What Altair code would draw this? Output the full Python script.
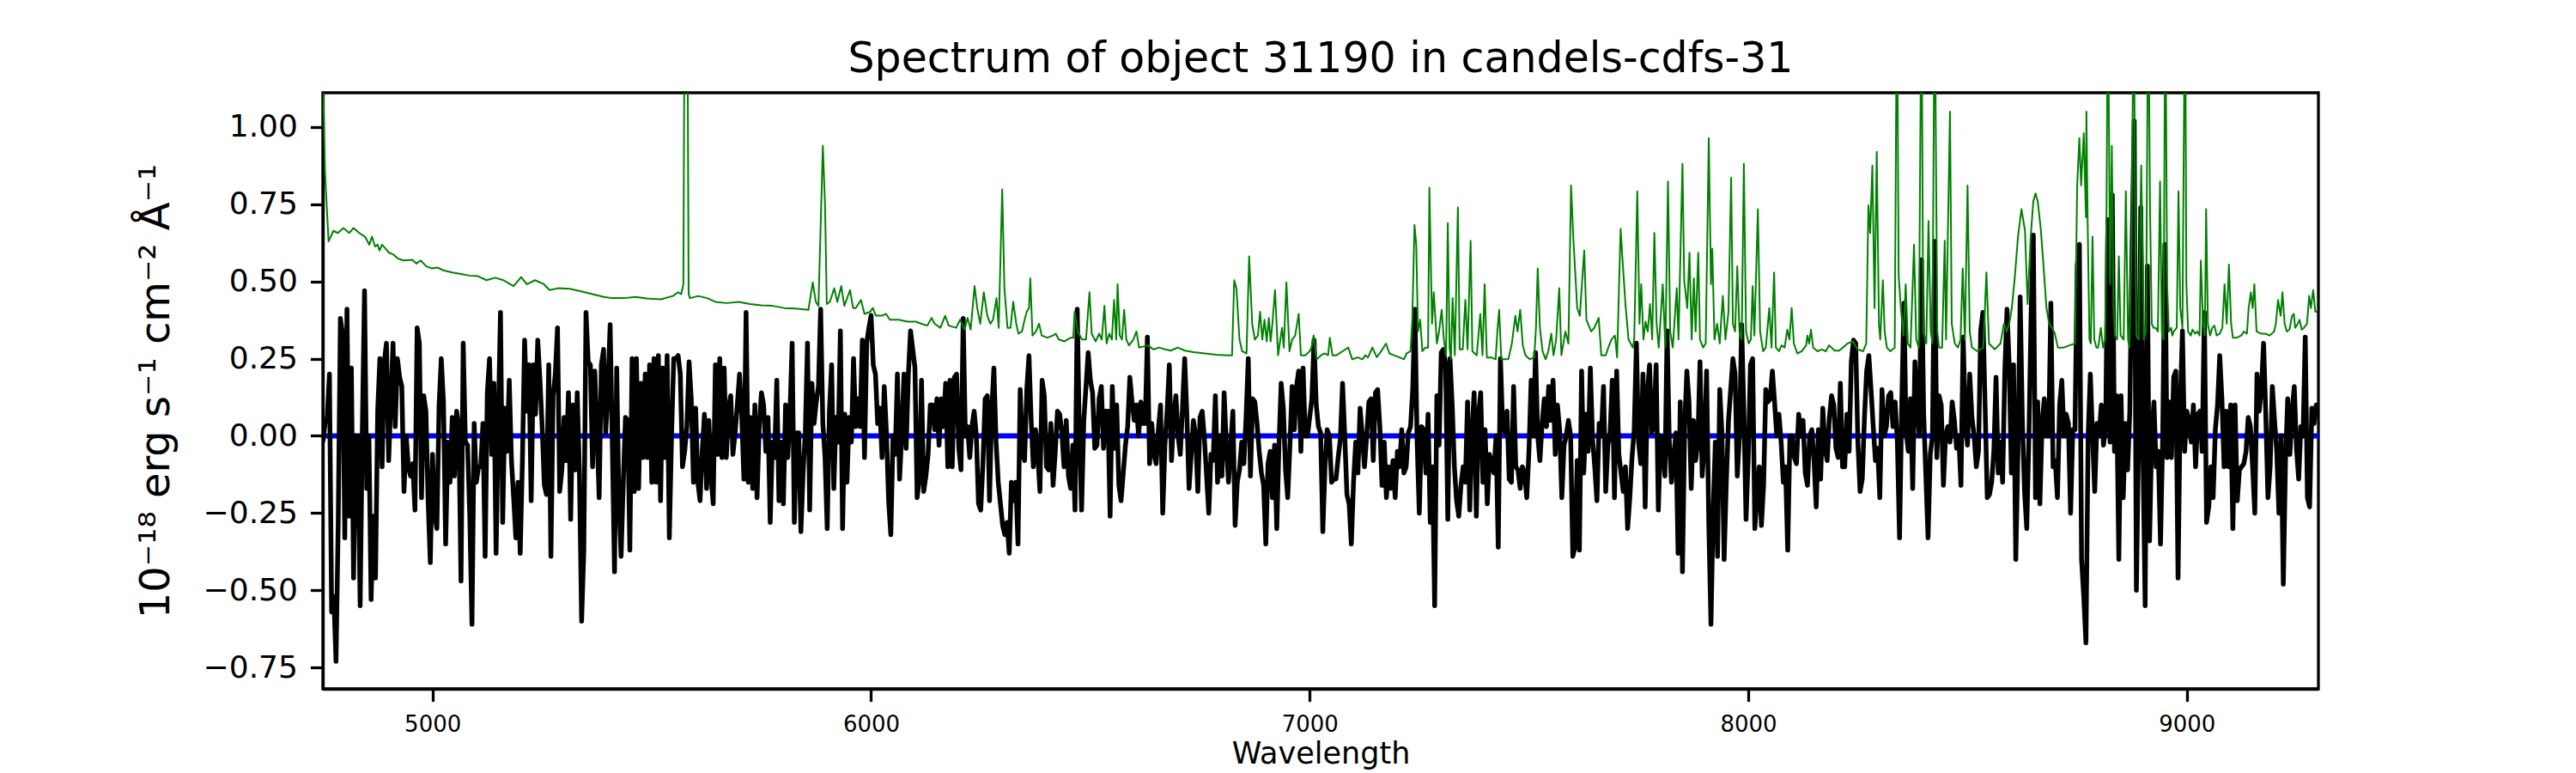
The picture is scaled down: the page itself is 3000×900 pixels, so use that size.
import altair as alt
import pandas as pd

# ---- black flux series: 5 A grid, one list per stretch of the spectrum ----
S1 = [-0.02, 0.04, 0.06, 0.20, -0.57, -0.52, -0.73, -0.28, 0.38, 0.33,
      -0.33, 0.41, -0.26, 0.22, -0.46, 0.00, 0.00, -0.55, 0.02, 0.47,
      -0.17, 0.00, -0.53, -0.26, -0.46, 0.08, 0.25, -0.10, 0.24, 0.30,
      -0.08, 0.11, 0.30, 0.03, 0.25, 0.19, 0.16, -0.18, 0.00, -0.10,
      -0.13, -0.09, -0.24, 0.35, 0.30, -0.20, 0.13, 0.08, -0.21, -0.41,
      -0.06, -0.26, -0.30, 0.10, 0.25, 0.11, -0.35, -0.02, -0.15, 0.06,
      -0.13, 0.08, 0.03, -0.47, 0.30, -0.02, -0.03, -0.26, -0.61, 0.04,
      -0.15, -0.10, -0.10, 0.04, -0.39, 0.14, 0.25, -0.06, 0.17, -0.38,
      0.05, 0.40, -0.28, 0.09, -0.05, 0.18, -0.08, -0.20, -0.33, -0.15,
      -0.38, -0.08, 0.31, 0.08, 0.23, -0.21, 0.23, 0.07, 0.31, 0.18,
      0.03, -0.16, -0.19, 0.23, -0.39, 0.13, 0.20, 0.35, -0.18, -0.11,
      0.06, -0.08, 0.14, -0.27, 0.10, -0.11, 0.14, -0.12, -0.60, -0.37,
      0.40, 0.24, 0.23, -0.10, 0.21, 0.02, -0.20, 0.23, 0.28, 0.01,
      0.15, 0.36, -0.03, -0.44, 0.22, -0.21, -0.39, -0.15, 0.06, 0.05,
      -0.37, 0.25, -0.18, 0.25, -0.17, 0.17, -0.07, 0.20, -0.07, 0.23,
      -0.15, 0.25, -0.15, 0.26, -0.21, 0.22, -0.07, 0.26, -0.33, 0.00,
      0.25, 0.25]
S2 = [0.26, 0.20, -0.10, -0.05, 0.03, 0.24, 0.12, -0.15, 0.09, -0.15,
      -0.21, -0.05, 0.07, -0.17, 0.05, -0.13, -0.22, 0.23, -0.06, 0.25,
      -0.07, 0.22, -0.07, 0.09, 0.13, -0.06, 0.01, 0.10, 0.20, 0.07,
      -0.14, 0.40, -0.15, 0.06, -0.17, 0.10, -0.20, 0.03, 0.14, 0.10,
      -0.05, 0.06, -0.28, -0.02, -0.07, 0.18, -0.21, -0.02, -0.22, 0.10,
      -0.07, 0.07, 0.30, -0.28, 0.01, 0.01, -0.31, -0.12, 0.01, 0.30,
      -0.24, 0.17, 0.04, 0.11, 0.16, 0.41, 0.04, -0.07, -0.30, 0.08,
      0.23, -0.17, 0.06, -0.02, 0.34, -0.30, 0.07, -0.15, 0.06, -0.02,
      0.25, 0.03, 0.12, 0.03, 0.31, -0.07, 0.30, 0.35, 0.39, 0.23,
      0.20, 0.04, 0.09, -0.07, 0.16, 0.01, -0.21, -0.32, 0.00, -0.06,
      0.20, -0.14, 0.01, 0.20, -0.04, 0.20, 0.34, 0.28, 0.22, -0.20,
      -0.14, 0.18, -0.18, -0.13, -0.06, 0.10, 0.10, 0.02, 0.12, -0.03,
      0.12, 0.03, 0.17, -0.10, 0.18, -0.10, 0.19, 0.20, -0.04, -0.11,
      0.38, 0.00, 0.03, -0.07, 0.03, 0.08, 0.00, -0.22, -0.24, -0.09,
      0.12, 0.13, -0.21, 0.08, 0.22, -0.02, -0.15, -0.22, -0.29, -0.32,
      -0.28, -0.38, -0.15, -0.21, -0.15, -0.35, 0.15, -0.05, -0.08, 0.15,
      0.26]
S3 = [0.05, -0.10, 0.02, -0.06, -0.18, 0.18, 0.13, -0.10, -0.11, 0.04,
      -0.16, -0.05, 0.08, 0.07, 0.01, -0.10, 0.05, -0.13, -0.17, -0.03,
      -0.24, 0.41, 0.00, -0.24, 0.05, 0.16, 0.27, 0.18, 0.14, -0.04,
      -0.03, 0.12, 0.16, -0.04, 0.08, 0.08, -0.26, 0.16, -0.04, 0.10,
      -0.16, -0.21, -0.12, -0.03, 0.03, 0.19, 0.11, 0.05, 0.10, 0.00,
      0.11, 0.04, 0.04, 0.32, -0.09, 0.04, -0.06, -0.09, 0.02, 0.10,
      -0.25, -0.03, 0.08, 0.23, -0.08, 0.07, 0.13, 0.00, -0.06, 0.09,
      0.25, 0.07, -0.17, -0.06, 0.05, 0.00, -0.18, 0.06, 0.08, -0.01,
      -0.13, -0.25, -0.06, -0.08, 0.13, -0.15, 0.00, -0.13, 0.14, -0.03,
      -0.15, -0.03, 0.08, -0.29, -0.15, -0.11, -0.02, -0.09, 0.06, 0.25,
      -0.13, 0.12, 0.11, 0.04, -0.05, -0.12, -0.16, -0.35, -0.09, -0.05,
      -0.20, -0.03, -0.30, -0.03, 0.17, 0.09, -0.11, -0.20, -0.03, 0.16,
      0.02, 0.16, 0.21, -0.05, 0.22, 0.00, 0.00, 0.06, 0.12, 0.31,
      0.10, 0.03, 0.01, -0.31, -0.10, 0.02, 0.00, -0.15, -0.14, -0.14,
      -0.07, -0.01, 0.17, 0.00, -0.19, -0.22, -0.35, -0.15, -0.02, -0.12,
      0.09, 0.00, -0.10, 0.00, 0.11, 0.12, -0.08, 0.14, 0.15, 0.03,
      -0.16]
S4 = [-0.02, -0.20, -0.10, -0.17, -0.08, -0.20, -0.05, -0.10, 0.02, -0.12,
      -0.10, 0.01, 0.03, 0.15, 0.41, -0.02, -0.25, 0.03, 0.02, -0.12,
      0.07, -0.28, -0.10, -0.55, 0.13, -0.03, 0.27, 0.28, 0.23, -0.27,
      0.25, 0.10, -0.10, -0.21, -0.26, -0.16, -0.10, -0.15, 0.11, -0.24,
      0.01, 0.14, -0.26, 0.07, 0.14, -0.15, 0.02, -0.22, -0.06, -0.09,
      -0.12, 0.00, -0.36, 0.25, 0.03, 0.01, 0.08, -0.14, -0.15, 0.16,
      -0.10, -0.11, -0.17, -0.10, -0.12, -0.20, -0.05, 0.18, 0.00, 0.27,
      0.00, -0.08, 0.04, 0.12, 0.03, 0.16, 0.05, 0.18, -0.06, 0.10,
      0.02, -0.20, -0.03, 0.00, 0.05, 0.00, -0.39, -0.36, -0.08, -0.37,
      0.21, -0.12, 0.07, -0.05, 0.22, -0.01, -0.10, -0.21, 0.04, 0.00,
      0.16, -0.18, -0.03, 0.01, 0.18, -0.20, 0.21, -0.06, -0.12, -0.18,
      -0.10, -0.30, -0.20, -0.07, 0.02, 0.30, -0.02, -0.09, 0.20, -0.23,
      0.14, 0.23, 0.01, 0.04, 0.23, -0.24, 0.00, -0.04, -0.13, 0.34,
      -0.02, -0.15, -0.07, 0.01, -0.38, 0.11, -0.44, 0.03, 0.21, 0.11,
      -0.17, 0.05, -0.08, -0.02, 0.24, -0.13, -0.02, 0.21, -0.28, -0.61,
      -0.24, -0.02, -0.39, 0.15, 0.01, -0.40, -0.15, 0.05, 0.15, 0.25]
S5 = [0.20, -0.13, 0.00, 0.36, 0.08, -0.27, -0.07, 0.23, 0.25, -0.30,
      -0.20, -0.10, -0.29, -0.16, 0.15, 0.11, 0.12, 0.21, 0.11, 0.00,
      0.07, -0.02, -0.15, -0.10, -0.37, 0.00, 0.00, -0.07, -0.09, 0.07,
      0.00, 0.05, -0.12, -0.16, 0.00, 0.02, -0.08, -0.23, 0.02, -0.14,
      0.09, -0.04, -0.08, 0.06, 0.13, 0.10, -0.04, -0.07, 0.17, -0.10,
      -0.10, 0.07, -0.05, 0.24, 0.31, 0.30, -0.02, -0.18, -0.14, 0.06,
      0.21, 0.26, 0.15, 0.03, -0.08, -0.04, -0.20, 0.15, 0.00, 0.03,
      0.13, 0.14, 0.03, 0.11, -0.02, -0.33, 0.10, 0.43, 0.01, -0.05,
      0.12, -0.17, 0.24, 0.09, 0.00, 0.57, 0.07, -0.13, -0.33, -0.06,
      0.00, 0.63, -0.07, 0.13, 0.10, -0.16, 0.00, 0.03, -0.02, 0.11,
      0.05, -0.04, 0.00, -0.16, 0.32, 0.05, -0.03, 0.20, 0.06, 0.00,
      -0.10, -0.05, 0.34, 0.40, 0.10, -0.20, -0.19, -0.15, -0.05, 0.19,
      -0.12, -0.02, -0.15, 0.21, 0.41, 0.23, -0.12, 0.23, -0.40, -0.05,
      0.45, 0.05, -0.18, -0.30, 0.00, 0.40, 0.65, -0.20, 0.11, -0.22,
      0.04, 0.12, 0.00, 0.00, 0.43, -0.10, -0.08, -0.20, 0.10, 0.18,
      0.00, 0.07, 0.04, -0.25, 0.02, 0.02, 0.55, 0.62, -0.40, -0.52,
      -0.67]
S6 = [0.00, 0.20, 0.00, -0.18, 0.04, 0.00, 0.10, -0.03, 0.03, 0.70,
      -0.02, 0.78, -0.05, 0.13, -0.40, 0.13, -0.20, 0.04, -0.11, 0.08,
      0.60, 1.02, -0.50, -0.02, 0.74, -0.05, -0.55, 0.55, -0.34, 0.00,
      0.11, -0.10, -0.05, -0.35, 0.00, 0.62, -0.07, 0.11, -0.07, 0.19,
      0.21, -0.46, 0.10, 0.34, -0.05, 0.08, 0.05, -0.02, 0.10, -0.10,
      0.07, 0.08, -0.05, 0.40, -0.28, -0.23, -0.10, -0.20, 0.02, 0.10,
      0.26, 0.12, -0.10, 0.08, -0.10, 0.10, -0.30, 0.10, -0.21, -0.11,
      -0.10, -0.09, -0.05, 0.06, 0.03, -0.10, -0.25, 0.20, 0.08, 0.15,
      0.30, 0.07, -0.20, -0.10, 0.16, 0.05, -0.05, -0.25, 0.00, -0.48,
      -0.08, 0.12, -0.06, 0.08, 0.16, -0.04, -0.14, 0.03, 0.00, 0.32,
      -0.20, -0.23, 0.09, 0.04, 0.10, 0.06]
segment_starts = [4750, 5560, 6365, 7170, 7970, 8775]
STEP = 5

# ---- green (noise / sky) series, read point by point ----
green_wl = [4750, 4755, 4763, 4774, 4784, 4797, 4810, 4820, 4833, 4846, 4856, 4862, 4869, 4875, 4879, 4885,
            4901, 4911, 4921, 4934, 4954, 4963, 4973, 4986, 4999, 5012, 5025, 5045, 5065, 5084, 5104, 5123,
            5143, 5162, 5185, 5202, 5215, 5234, 5254, 5267, 5286, 5313, 5339, 5365, 5391, 5410, 5437, 5463,
            5489, 5521, 5548,
            5560, 5567, 5572, 5575, 5581, 5584, 5587, 5606, 5626, 5645, 5671, 5698, 5724, 5750, 5776, 5802,
            5828, 5857, 5867, 5874, 5880, 5890, 5895, 5899, 5906, 5916, 5923, 5932, 5939, 5952, 5959, 5965,
            5977, 5985, 5998, 6004, 6011, 6024, 6034, 6043, 6063, 6083, 6102, 6115, 6128, 6138, 6145, 6158,
            6169, 6177, 6194, 6203, 6213, 6220, 6227, 6236, 6242, 6249, 6257, 6265, 6272, 6278, 6286, 6291,
            6299, 6304, 6311, 6318, 6324, 6331, 6336, 6344, 6350, 6355, 6360, 6363, 6368, 6376, 6383, 6389,
            6402, 6415, 6421, 6428, 6441, 6455, 6461, 6464, 6471, 6481, 6490, 6498, 6503, 6512, 6520, 6526,
            6532, 6537, 6543, 6549, 6554, 6559, 6562, 6567, 6572, 6577, 6582, 6588, 6598, 6605, 6611, 6631,
            6644, 6657, 6670, 6683, 6699, 6716, 6735, 6761, 6787, 6813, 6823, 6828, 6833, 6840, 6846, 6856,
            6862, 6869, 6875, 6882, 6887, 6892, 6897, 6902, 6907, 6911, 6915, 6921, 6928, 6937, 6941, 6947,
            6954, 6960, 6967, 6975, 6980, 6990, 7000, 7004, 7009, 7016, 7026, 7034, 7042, 7046, 7052, 7061,
            7075, 7088, 7097, 7110, 7120, 7127, 7133, 7143, 7153, 7163, 7174, 7182, 7192, 7205, 7215, 7221,
            7230, 7234, 7239, 7243, 7247, 7252, 7257, 7264, 7270, 7273, 7279, 7283, 7290, 7295, 7301, 7306,
            7311, 7315, 7319, 7322, 7326, 7331, 7338, 7342, 7349, 7355, 7360, 7367, 7371, 7381, 7389, 7394,
            7399, 7404, 7414, 7424, 7428, 7432, 7437, 7453, 7461, 7469, 7474, 7480, 7486, 7492, 7502, 7512,
            7516, 7520, 7525, 7531, 7538, 7544, 7551, 7556, 7562, 7569, 7574, 7583, 7590, 7596, 7601, 7610,
            7616, 7626, 7631, 7642, 7649, 7659, 7665, 7675, 7681, 7688, 7696, 7701, 7709, 7714, 7720, 7727,
            7737, 7740, 7747, 7752, 7756, 7761, 7766, 7771, 7776, 7781, 7786, 7791, 7796, 7805, 7811, 7817,
            7822, 7828, 7837, 7841, 7850, 7854, 7861, 7866, 7871, 7876, 7880, 7886, 7890, 7897, 7903, 7910,
            7915, 7918, 7923, 7929, 7935, 7942, 7948, 7955, 7961, 7965,
            7970, 7975, 7980, 7985, 7990, 7995, 8001, 8006, 8010, 8014, 8022, 8027, 8034, 8040, 8048, 8053,
            8059, 8063, 8070, 8076, 8083, 8089, 8094, 8099, 8104, 8112, 8122, 8132, 8135, 8139, 8143, 8148,
            8158, 8168, 8177, 8184, 8190, 8197, 8207, 8216, 8226, 8239, 8249, 8262, 8269, 8274, 8278, 8283,
            8288, 8293, 8298, 8301, 8307, 8311, 8316, 8324, 8334, 8339, 8343, 8348, 8354, 8359, 8364, 8370,
            8378, 8383, 8389, 8395, 8399, 8406, 8411, 8416, 8420, 8425, 8431, 8435, 8442, 8448, 8451, 8460,
            8464, 8471, 8478, 8484, 8489, 8494, 8500, 8505, 8510, 8523, 8536, 8543, 8549, 8562, 8575, 8583,
            8589, 8595, 8601, 8608, 8615, 8623, 8631, 8637, 8644, 8650, 8655, 8660, 8667, 8673, 8680, 8686,
            8693, 8699, 8706, 8719, 8732, 8745, 8750, 8755, 8759, 8765, 8770,
            8771, 8774, 8778, 8781, 8785, 8789, 8794, 8798, 8804, 8809, 8814, 8817, 8820, 8825, 8829, 8833,
            8836, 8841, 8845, 8849, 8856, 8861, 8866, 8869, 8874, 8879, 8882, 8885, 8890, 8896, 8902, 8907,
            8912, 8916, 8920, 8924, 8929, 8934, 8939, 8943, 8947, 8951, 8955, 8959, 8964, 8967, 8970, 8977,
            8981, 8985, 8990, 8996, 8999, 9003, 9009, 9013, 9019, 9024, 9029, 9032, 9037, 9041, 9044, 9048,
            9053, 9058, 9063, 9068, 9075, 9081, 9086, 9091, 9096, 9101, 9105, 9114, 9124, 9130, 9137, 9141,
            9146, 9150, 9154, 9159, 9169, 9179, 9189, 9199, 9203, 9208, 9214, 9218, 9223, 9228, 9234, 9240,
            9244, 9247, 9253, 9257, 9262, 9267, 9274, 9279, 9283, 9288, 9293, 9298]
green_flux = [1.20, 0.85, 0.63, 0.664, 0.657, 0.673, 0.657, 0.673, 0.657, 0.645, 0.619, 0.645, 0.613, 0.619, 0.600, 0.619,
              0.593, 0.587, 0.574, 0.568, 0.570, 0.558, 0.568, 0.549, 0.542, 0.545, 0.536, 0.529, 0.524, 0.519, 0.517, 0.504,
              0.512, 0.504, 0.485, 0.514, 0.491, 0.504, 0.491, 0.472, 0.478, 0.476, 0.468, 0.459, 0.450, 0.446, 0.446, 0.450,
              0.445, 0.442, 0.453,
              0.465, 0.459, 0.491, 1.50, 1.50, 0.460, 0.446, 0.453, 0.446, 0.434, 0.430, 0.434, 0.427, 0.423, 0.421, 0.414,
              0.412, 0.408, 0.497, 0.434, 0.421, 0.939, 0.747, 0.427, 0.434, 0.478, 0.434, 0.485, 0.421, 0.472, 0.414, 0.414,
              0.440, 0.395, 0.402, 0.414, 0.389, 0.389, 0.395, 0.376, 0.376, 0.370, 0.370, 0.363, 0.357, 0.382, 0.363, 0.350,
              0.389, 0.357, 0.350, 0.376, 0.344, 0.382, 0.344, 0.485, 0.414, 0.363, 0.465, 0.389, 0.363, 0.376, 0.446, 0.350,
              0.798, 0.478, 0.350, 0.350, 0.434, 0.363, 0.331, 0.338, 0.376, 0.402, 0.414, 0.510, 0.325, 0.338, 0.363, 0.325,
              0.318, 0.325, 0.331, 0.312, 0.306, 0.318, 0.318, 0.402, 0.338, 0.312, 0.312, 0.465, 0.331, 0.306, 0.331, 0.312,
              0.421, 0.299, 0.331, 0.312, 0.440, 0.312, 0.491, 0.325, 0.312, 0.408, 0.312, 0.293, 0.312, 0.338, 0.286, 0.293,
              0.280, 0.286, 0.280, 0.276, 0.286, 0.276, 0.271, 0.267, 0.263, 0.261, 0.261, 0.504, 0.478, 0.312, 0.274, 0.267,
              0.581, 0.363, 0.312, 0.325, 0.402, 0.312, 0.376, 0.306, 0.382, 0.306, 0.363, 0.472, 0.261, 0.350, 0.286, 0.497,
              0.274, 0.312, 0.325, 0.395, 0.261, 0.261, 0.274, 0.286, 0.325, 0.248, 0.261, 0.267, 0.261, 0.318, 0.261, 0.261,
              0.274, 0.286, 0.248, 0.254, 0.248, 0.261, 0.254, 0.286, 0.255, 0.274, 0.299, 0.267, 0.261, 0.254, 0.248, 0.267,
              0.274, 0.376, 0.683, 0.619, 0.338, 0.376, 0.274, 0.286, 0.286, 0.804, 0.363, 0.465, 0.299, 0.338, 0.408, 0.312,
              0.261, 0.689, 0.286, 0.248, 0.446, 0.261, 0.740, 0.280, 0.280, 0.440, 0.280, 0.632, 0.274, 0.261, 0.395, 0.261,
              0.491, 0.254, 0.254, 0.248, 0.338, 0.408, 0.248, 0.248, 0.299, 0.389, 0.338, 0.408, 0.293, 0.261, 0.248, 0.254,
              0.350, 0.542, 0.350, 0.274, 0.248, 0.274, 0.331, 0.261, 0.312, 0.478, 0.261, 0.338, 0.299, 0.811, 0.645, 0.414,
              0.389, 0.600, 0.376, 0.338, 0.350, 0.382, 0.261, 0.261, 0.286, 0.312, 0.325, 0.254, 0.670, 0.555, 0.427, 0.312,
              0.286, 0.312, 0.792, 0.363, 0.491, 0.312, 0.370, 0.338, 0.427, 0.312, 0.657, 0.363, 0.286, 0.491, 0.286, 0.824,
              0.338, 0.286, 0.478, 0.312, 0.881, 0.504, 0.414, 0.593, 0.312, 0.510, 0.338, 0.593, 0.312, 0.286, 0.299, 0.964,
              0.491, 0.606, 0.312, 0.363, 0.299, 0.453, 0.312, 0.402, 0.836, 0.363,
              0.338, 0.549, 0.338, 0.312, 0.881, 0.338, 0.299, 0.312, 0.485, 0.325, 0.734, 0.338, 0.274, 0.286, 0.414, 0.286,
              0.529, 0.286, 0.274, 0.293, 0.286, 0.344, 0.312, 0.414, 0.299, 0.267, 0.274, 0.293, 0.325, 0.299, 0.344, 0.286,
              0.274, 0.280, 0.274, 0.293, 0.286, 0.276, 0.276, 0.286, 0.299, 0.306, 0.280, 0.274, 0.299, 0.747, 0.657, 0.875,
              0.414, 0.920, 0.363, 0.312, 0.504, 0.338, 0.286, 0.274, 0.286, 1.50, 0.517, 0.414, 0.325, 0.491, 0.299, 0.286,
              0.619, 0.312, 0.286, 1.50, 0.338, 0.299, 0.696, 0.338, 0.299, 1.50, 0.338, 0.286, 0.286, 0.632, 0.312, 1.05,
              0.363, 0.299, 0.286, 0.312, 0.542, 0.312, 0.811, 0.338, 0.286, 0.274, 0.286, 0.529, 0.299, 0.280, 0.299, 0.363,
              0.338, 0.363, 0.414, 0.517, 0.645, 0.734, 0.664, 0.427, 0.645, 0.760, 0.785, 0.760, 0.670, 0.555, 0.414, 0.363,
              0.350, 0.331, 0.286, 0.286, 0.293, 0.299, 0.811, 0.964, 0.811, 0.980, 0.708,
              1.05, 0.683, 0.312, 0.299, 0.645, 0.312, 0.286, 0.286, 0.350, 0.286, 0.312, 0.747, 1.50, 0.491, 0.939, 0.414,
              0.325, 0.312, 0.581, 0.325, 0.312, 0.792, 0.312, 0.286, 0.619, 1.50, 0.747, 0.325, 0.312, 0.875, 0.312, 0.338,
              1.50, 0.747, 0.363, 0.350, 0.350, 0.338, 0.824, 0.338, 0.312, 1.50, 0.491, 0.338, 0.350, 0.325, 0.338, 0.350,
              0.792, 0.414, 0.350, 1.50, 0.491, 0.338, 0.325, 0.344, 0.331, 0.338, 0.325, 0.568, 0.363, 0.325, 0.734, 0.363,
              0.325, 0.350, 0.357, 0.325, 0.331, 0.350, 0.491, 0.363, 0.555, 0.363, 0.318, 0.318, 0.325, 0.338, 0.331, 0.414,
              0.465, 0.414, 0.491, 0.338, 0.331, 0.331, 0.325, 0.338, 0.363, 0.440, 0.389, 0.465, 0.363, 0.338, 0.344, 0.389,
              0.395, 0.350, 0.363, 0.376, 0.344, 0.350, 0.363, 0.453, 0.414, 0.472, 0.402, 0.402]

x_ticks = [5000, 6000, 7000, 8000, 9000]
y_ticks = [-0.75, -0.50, -0.25, 0.00, 0.25, 0.50, 0.75, 1.00]
x_domain = [4750, 9300]
y_domain = [-0.819, 1.111]
title_text = "Spectrum of object 31190 in candels-cdfs-31"
x_title = "Wavelength"
y_title = "10\u207b\u00b9\u2078 erg s\u207b\u00b9 cm\u207b\u00b2 \u00c5\u207b\u00b9"

# ---- tables ----
bw, bf = [], []
for start, seg in zip(segment_starts, [S1, S2, S3, S4, S5, S6]):
    for k, v in enumerate(seg):
        bw.append(start + STEP * k)
        bf.append(v)
black_df = pd.DataFrame({"wavelength": bw, "flux": bf})
n = min(len(green_wl), len(green_flux))
green_df = pd.DataFrame({"wavelength": green_wl[:n], "flux": green_flux[:n]})
zero_df = pd.DataFrame({"flux": [0.0]})

FONT = "DejaVu Sans"
x_scale = alt.Scale(domain=x_domain, nice=False, zero=False)
y_scale = alt.Scale(domain=y_domain, nice=False, zero=False)
x_axis = alt.Axis(values=x_ticks, format="d", title=x_title, grid=False,
                  labelFontSize=26, titleFontSize=35, titleFontWeight="normal",
                  tickSize=14.6, tickWidth=3.3, domainWidth=3.3,
                  labelPadding=14, titlePadding=4, labelFlush=False,
                  domainColor="black", tickColor="black", labelColor="black", titleColor="black",
                  labelFont=FONT, titleFont=FONT)
y_axis = alt.Axis(values=y_ticks, format=".2f", title=y_title, grid=False,
                  labelFontSize=36, titleFontSize=48, titleFontWeight="normal",
                  tickSize=14.6, tickWidth=3.3, domainWidth=3.3,
                  labelPadding=15, titlePadding=30, labelFlush=False,
                  domainColor="black", tickColor="black", labelColor="black", titleColor="black",
                  labelFont=FONT, titleFont=FONT)

zero_line = alt.Chart(zero_df).mark_rule(color="#0000ff", strokeWidth=6).encode(
    y=alt.Y("flux:Q", scale=y_scale, axis=y_axis)
)
black_line = alt.Chart(black_df).mark_line(
    color="black", strokeWidth=5.5, clip=True, strokeJoin="round"
).encode(
    x=alt.X("wavelength:Q", scale=x_scale, axis=x_axis),
    y=alt.Y("flux:Q", scale=y_scale, axis=y_axis),
)
green_line = alt.Chart(green_df).mark_line(
    color="#008000", strokeWidth=2, clip=True, strokeJoin="round"
).encode(
    x=alt.X("wavelength:Q", scale=x_scale, axis=x_axis),
    y=alt.Y("flux:Q", scale=y_scale, axis=y_axis),
)

chart = alt.layer(zero_line, black_line, green_line).properties(
    width=2324,
    height=694,
    background="white",
    autosize=alt.AutoSizeParams(type="none"),
    padding={"left": 368, "top": 100, "right": 292, "bottom": 110},
    title=alt.Title(text=title_text, fontSize=49, font=FONT, fontWeight="normal",
                    anchor="middle", offset=25, baseline="alphabetic", dy=50, color="black"),
).configure_view(
    stroke="black", strokeWidth=3.3
)

chart.save("out.html", embed_options={"renderer": "svg", "actions": False})
